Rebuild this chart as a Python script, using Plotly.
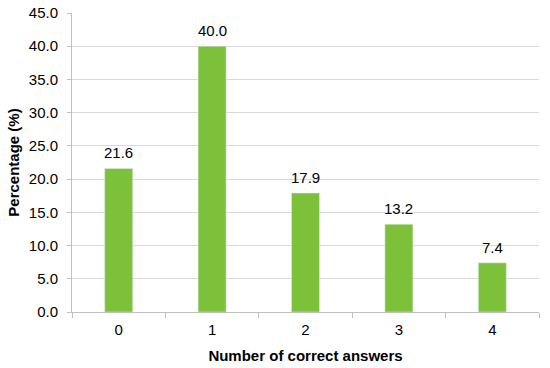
import plotly.graph_objects as go

categories = ["0", "1", "2", "3", "4"]
percentages = [21.6, 40.0, 17.9, 13.2, 7.4]
y_ticks = [0, 5, 10, 15, 20, 25, 30, 35, 40, 45]

fig = go.Figure(
    go.Bar(
        x=categories,
        y=percentages,
        marker_color="#7DC13A",
        width=0.3,
        hoverinfo="x+y",
    )
)

# value labels sit a bit higher above the bars than plotly's "outside" text
for cat, val in zip(categories, percentages):
    fig.add_annotation(
        x=cat, y=val, text=f"{val:.1f}", showarrow=False,
        yanchor="bottom", yshift=5, font=dict(size=15, color="#000000"),
    )

axis_line = "#C0C0C0"
fig.update_layout(
    width=550,
    height=368,
    margin=dict(l=72, r=11, t=13, b=56, autoexpand=False),
    plot_bgcolor="white",
    paper_bgcolor="white",
    font=dict(family="Liberation Sans, Arial, sans-serif", size=15, color="#000000"),
    showlegend=False,
    xaxis=dict(
        title=dict(text="<b>Number of correct answers</b>", font=dict(size=15), standoff=13),
        automargin=False,
        showline=True,
        linecolor=axis_line,
        ticks="outside",
        tickson="boundaries",
        tickcolor=axis_line,
        ticklen=5,
        ticklabelstandoff=4,
        showgrid=False,
    ),
    yaxis=dict(
        title=dict(text="<b>Percentage (%)</b>", font=dict(size=15), standoff=5),
        automargin=False,
        range=[0, 45],
        tickvals=y_ticks,
        tickformat=".1f",
        showline=True,
        linecolor=axis_line,
        ticks="outside",
        tickcolor=axis_line,
        ticklen=4,
        ticklabelstandoff=6,
        gridcolor="#D9D9D9",
        zeroline=False,
    ),
)

# drop the browser's default body margin so the figure fills the window
fig.write_html(
    "out.html",
    config={"displayModeBar": False},
    post_script="document.body.style.margin = '0';",
)
